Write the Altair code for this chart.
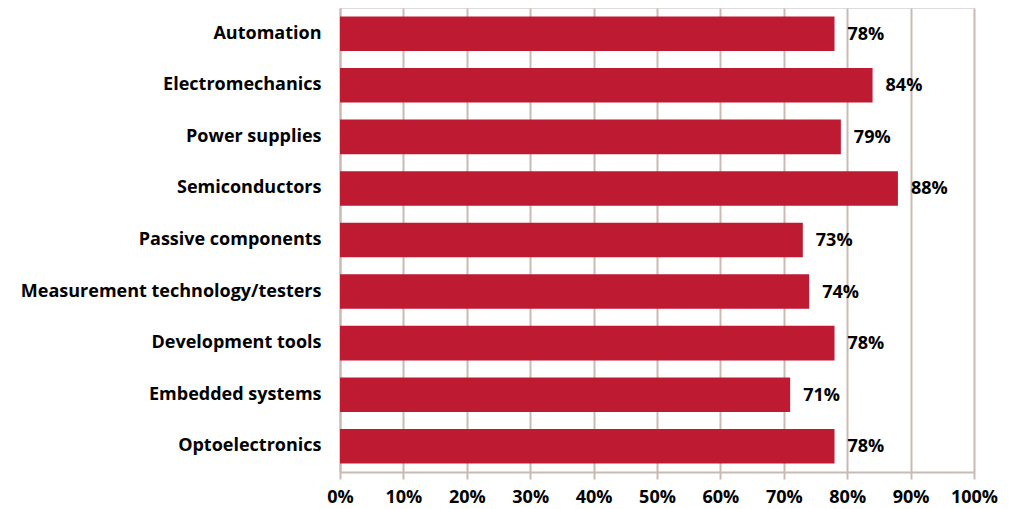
import altair as alt
import pandas as pd

categories = ["Automation", "Electromechanics", "Power supplies", "Semiconductors",
              "Passive components", "Measurement technology/testers",
              "Development tools", "Embedded systems", "Optoelectronics"]
values = [78, 84, 79, 88, 73, 74, 78, 71, 78]

df = pd.DataFrame({"category": categories, "value": [v / 100 for v in values],
                   "label": [f"{v}%" for v in values]})

FONT = "Open Sans"
GRID = "#C9BAB3"
RED = "#BE1A32"
FS = 18

y = alt.Y("category:N", sort=categories, title=None,
          scale=alt.Scale(paddingInner=0.33, paddingOuter=0.165),
          axis=alt.Axis(labelFont=FONT, labelFontSize=FS, labelFontWeight="bold",
                        labelColor="#000000", labelPadding=19, ticks=False,
                        domainColor=GRID, domainWidth=2, labelLimit=400))
x = alt.X("value:Q", title=None,
          scale=alt.Scale(domain=[0, 1], nice=False),
          axis=alt.Axis(format=".0%", values=[i / 10 for i in range(11)],
                        labelFont=FONT, labelFontSize=FS, labelFontWeight="bold",
                        labelColor="#000000", labelPadding=9,
                        labelFlush=False, labelOverlap=False,
                        grid=True, gridColor=GRID, gridWidth=2,
                        domainColor=GRID, domainWidth=2,
                        tickColor=GRID, tickWidth=2, tickSize=7))

bars = alt.Chart(df).mark_bar(color=RED).encode(x=x, y=y)
text = alt.Chart(df).mark_text(align="left", baseline="middle", dx=13, dy=1,
                               font=FONT, fontSize=FS, fontWeight="bold",
                               color="#000000").encode(x="value:Q", y=alt.Y("category:N", sort=categories), text="label:N")

chart = (bars + text).properties(
    width=634, height=464,
    autosize=alt.AutoSizeParams(type="none"),
    padding={"left": 332, "top": 0, "right": 43, "bottom": 37},
).configure_view(stroke=GRID, strokeWidth=2).configure(background="white")

chart.save("out.html", embed_options={"renderer": "svg", "actions": False})
